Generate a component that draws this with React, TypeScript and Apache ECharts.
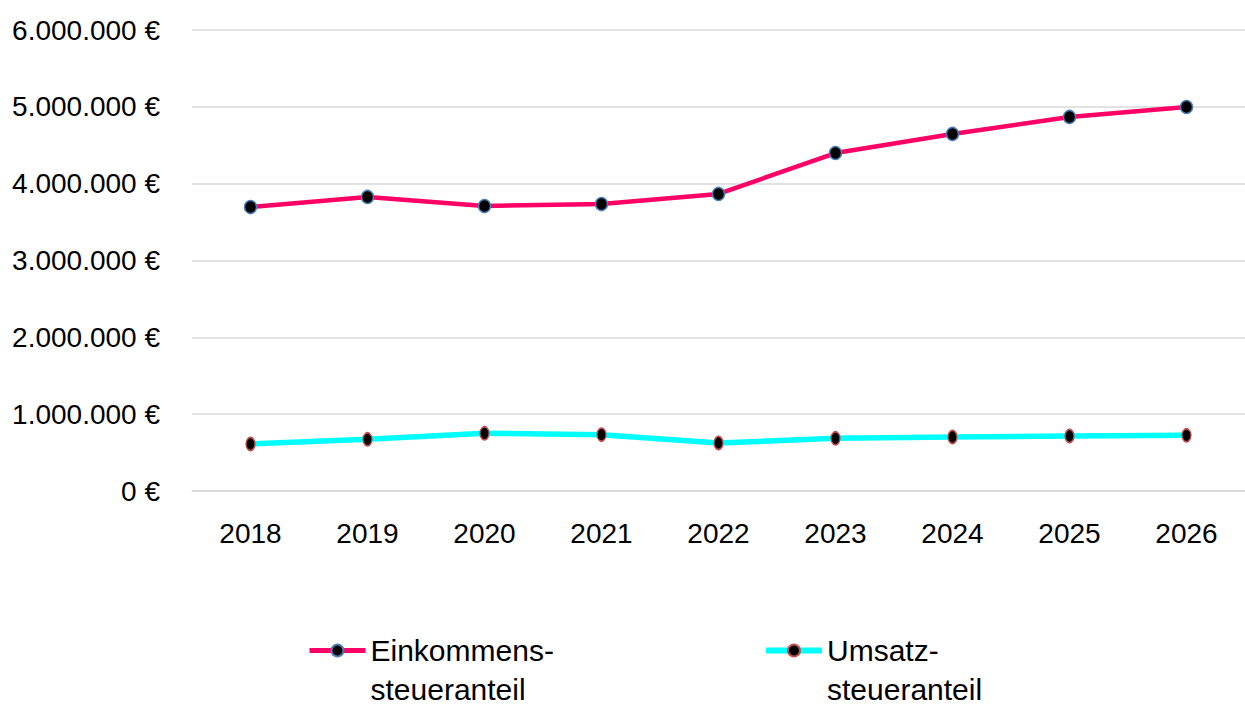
import React, { useEffect, useRef } from "react";
import * as echarts from "echarts";

const years = ["2018", "2019", "2020", "2021", "2022", "2023", "2024", "2025", "2026"];
const einkommen = [3696000, 3827000, 3709000, 3735000, 3866000, 4399000, 4647000, 4868000, 4998000];
const umsatz = [612000, 673000, 751000, 733000, 625000, 686000, 703000, 716000, 725000];
const yMin = 0;
const yMax = 6000000;
const yStep = 1000000;
const seriesNames = ["Einkommens-\nsteueranteil", "Umsatz-\nsteueranteil"];
const seriesColors = ["#FF0066", "#00FFFF"];

const fmtEuro = (v: number) => String(Math.round(v)).replace(/\B(?=(\d{3})+(?!\d))/g, ".") + " €";

const SANS = "'Liberation Sans', Arial, sans-serif";

export default function App() {
  const ref = useRef<HTMLDivElement>(null);
  useEffect(() => {
    if (!ref.current) return;
    const chart = echarts.init(ref.current, undefined, { renderer: "svg" });
    const L = 39;
    const legendCommon = {
      orient: "horizontal",
      padding: 0,
      itemWidth: 56,
      itemHeight: 15,
      itemGap: 0,
      top: 592,
      formatter: (name: string) => "\n" + name,
      textStyle: {
        fontFamily: SANS,
        fontSize: 30,
        color: "#000",
        lineHeight: L,
      },
    };
    chart.setOption({
      animation: false,
      backgroundColor: "#fff",
      grid: { left: 192, top: 30, width: 1063, height: 461, containLabel: false },
      legend: [
        { ...legendCommon, left: 307, data: [seriesNames[0]], lineStyle: { width: 5, color: seriesColors[0] } },
        { ...legendCommon, left: 763, data: [seriesNames[1]], lineStyle: { width: 6, color: seriesColors[1] } },
      ],
      xAxis: {
        type: "category",
        data: years,
        boundaryGap: true,
        axisLine: { show: true, lineStyle: { color: "#d9d9d9", width: 1.5 } },
        axisTick: { show: false },
        axisLabel: { fontFamily: SANS, fontSize: 28, color: "#000", margin: 28 },
        splitLine: { show: false },
      },
      yAxis: {
        type: "value",
        min: yMin,
        max: yMax,
        interval: yStep,
        axisLine: { show: false },
        axisTick: { show: false },
        axisLabel: {
          fontFamily: SANS,
          fontSize: 28,
          color: "#000",
          margin: 32,
          formatter: (v: number) => fmtEuro(v),
        },
        splitLine: { show: true, lineStyle: { color: "#d9d9d9", width: 1.5 } },
      },
      series: [
        {
          name: seriesNames[0],
          type: "line",
          data: einkommen,
          symbol: "circle",
          symbolSize: [12, 13],
          lineStyle: { color: seriesColors[0], width: 4.5 },
          itemStyle: { color: "#000", borderColor: "#4A7EBB", borderWidth: 1.5 },
          z: 3,
        },
        {
          name: seriesNames[1],
          type: "line",
          data: umsatz,
          symbol: "circle",
          symbolSize: [9, 13],
          lineStyle: { color: seriesColors[1], width: 5.5 },
          itemStyle: { color: "#000", borderColor: "#C0504D", borderWidth: 1.5 },
          z: 3,
        },
      ],
    });
    return () => chart.dispose();
  }, []);
  return (
    <div
      ref={ref}
      style={{ position: "absolute", left: 0, top: 0, width: 1245, height: 706, background: "#fff" }}
    />
  );
}
